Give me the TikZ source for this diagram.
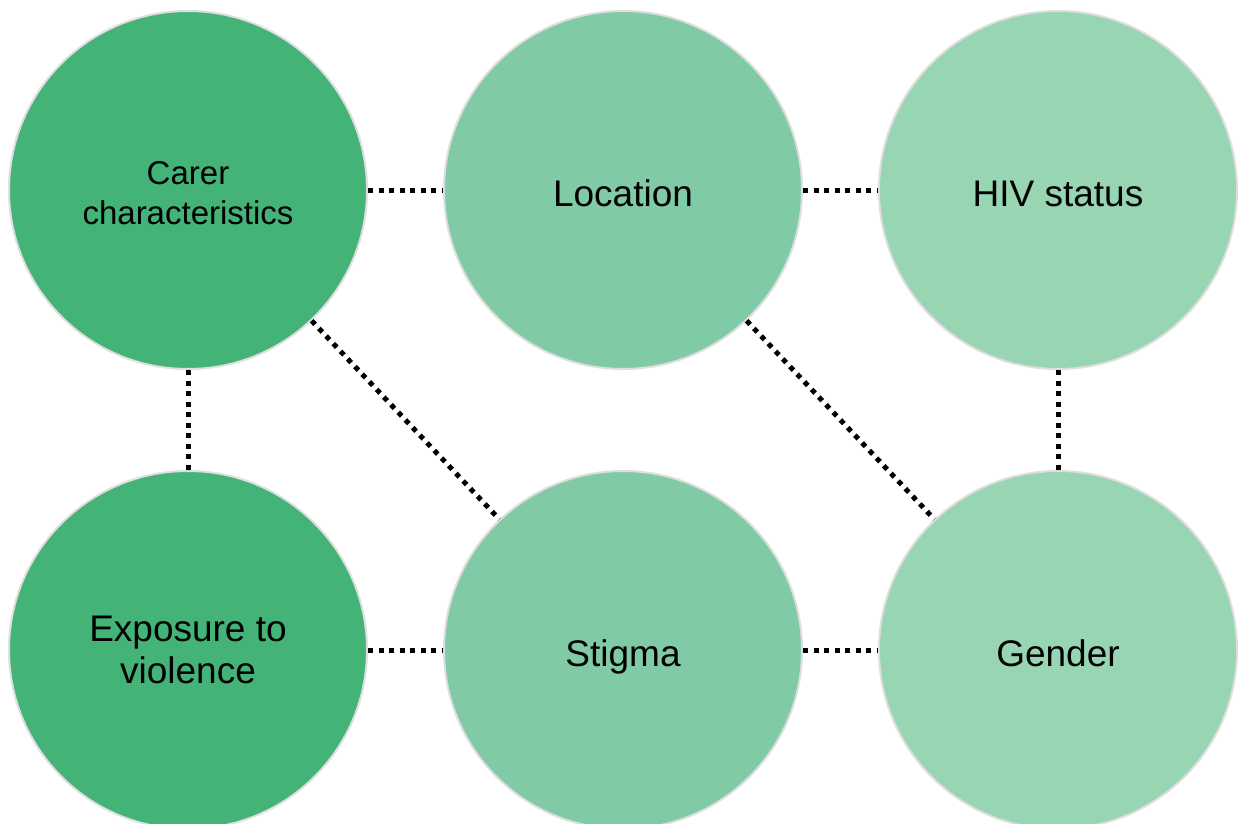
\documentclass[tikz,border=0pt]{standalone}
\usepackage{fontspec}
\setmainfont{Liberation Sans}
\definecolor{carergreen}{HTML}{43B378}
\definecolor{midgreen}{HTML}{80CBA5}
\definecolor{palegreen}{HTML}{97D5B3}

\tikzset{
  factor/.style={circle, draw=black!13, line width=2pt, minimum size=358pt, inner sep=0pt,
    align=center, font=\fontsize{37}{42}\selectfont},
  oneline/.style={text height=32pt, text depth=0pt},
  link/.style={line width=5pt, dash pattern=on 5pt off 5.5pt}
}

\begin{document}
\begin{tikzpicture}[x=1pt,y=-1pt]
    \useasboundingbox (0,0) rectangle (1245,824);
    % top row
    \node[factor, fill=carergreen, font=\fontsize{33}{40}\selectfont] (carer) at (188,190) {\rule{0pt}{30pt}Carer\\characteristics};
    \node[factor, oneline, fill=midgreen] (location) at (623,190) {Location};
    \node[factor, oneline, fill=palegreen] (hiv) at (1058,190) {HIV status};
    % bottom row
    \node[factor, fill=carergreen] (violence) at (188,650) {Exposure to\\violence};
    \node[factor, oneline, fill=midgreen] (stigma) at (623,650) {Stigma};
    \node[factor, oneline, fill=palegreen] (gender) at (1058,650) {Gender};
    % links
    \draw[link] (carer) -- (location);
    \draw[link] (location) -- (hiv);
    \draw[link] (violence) -- (stigma);
    \draw[link] (stigma) -- (gender);
    \draw[link] (carer) -- (violence);
    \draw[link] (hiv) -- (gender);
    \draw[link] (carer) -- (stigma);
    \draw[link] (location) -- (gender);
  \end{tikzpicture}
\end{document}
